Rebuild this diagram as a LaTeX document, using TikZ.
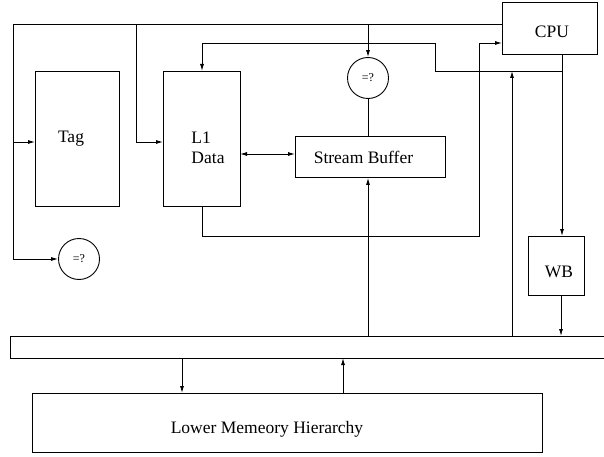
\documentclass[tikz,border=0pt]{standalone}
\usepackage{fontspec}
\setmainfont{Liberation Serif}
\usetikzlibrary{arrows.meta,calc}
\begin{document}
\begin{tikzpicture}[x=1pt,y=-1pt,line width=0.9pt,
  box/.style={draw,inner sep=0pt,anchor=north west},
  cmp/.style={draw,circle,minimum size=41pt,inner sep=0pt,font=\fontsize{12}{14}\selectfont},
  lbl/.style={font=\fontsize{17.5}{20}\selectfont,inner sep=0pt},
  arr/.style={-{Latex[length=7pt,width=4pt]}},
  darr/.style={{Latex[length=7pt,width=4pt]}-{Latex[length=7pt,width=4pt]}}]
\useasboundingbox (0,0) rectangle (604,457);
% boxes
\node[box,minimum width=84pt,minimum height=135pt] (tag) at (35,71) {};
\node[lbl] (tagt) at (71,139) {Tag};
\node[box,minimum width=77pt,minimum height=135pt] (l1) at (163,71) {};
\node[lbl,align=left] (l1t) at (208,148) {L1\\Data};
\node[box,minimum width=150pt,minimum height=41pt,lbl] (sb) at (295,136) {\hspace*{-14pt}Stream Buffer};
\node[box,minimum width=95pt,minimum height=52pt] (cpu) at (502,2) {};
\node[lbl] (cput) at (552,32) {CPU};
\node[box,minimum width=56pt,minimum height=59pt] (wb) at (528,236) {};
\node[lbl] (wbt) at (559,272) {WB};
\node[box,minimum width=510pt,minimum height=59pt] (lm) at (32,393) {};
\node[lbl] (lmt) at (267,429) {Lower Memeory Hierarchy};
\node[cmp] (cmpt) at (368,78) {=?};
\node[cmp] (cmpl) at (79,259) {=?};
% bus
\coordinate (busTL) at (10,336);
\coordinate (busTR) at (604,336);
\coordinate (busBL) at (10,358);
\coordinate (busBR) at (604,358);
\draw (busTR) -- (busTL) -- (busBL) -- (busBR);
% address line from CPU
\coordinate (a0) at (502,24);
\coordinate (a1) at (13,24);
\coordinate (a2) at (13,259);
\coordinate (a3) at (13,142);
\coordinate (a4) at (136,24);
\coordinate (a5) at (136,142);
\coordinate (a6) at (368,24);
\draw (a0) -- (a1) -- (a2);
\draw[arr] (a2) -- (cmpl.west);
\draw[arr] (a3) -- (tag.west |- a3);
\draw[arr] (a4) -- (a5) -- (l1.west |- a5);
\draw[arr] (a6) -- (cmpt.north);
% CPU data out
\coordinate (d0) at (562,54);
\coordinate (d1) at (562,71);
\coordinate (d2) at (435,71);
\coordinate (d3) at (435,43);
\coordinate (d4) at (202,43);
\coordinate (d5) at (202,71);
\draw[arr] (d0) -- (wb.north -| d0);
\draw[arr] (d1) -- (d2) -- (d3) -- (d4) -- (d5);
\coordinate (u0) at (512,336);
\coordinate (u1) at (512,71);
\draw[arr] (u0) -- (u1);
% L1 to CPU
\coordinate (e0) at (202,206);
\coordinate (e1) at (202,236);
\coordinate (e2) at (479,236);
\coordinate (e3) at (479,43);
\draw[arr] (e0) -- (e1) -- (e2) -- (e3) -- (cpu.west |- e3);
% L1 <-> SB
\coordinate (f0) at (240,154);
\coordinate (f1) at (295,154);
\draw[darr] (f0) -- (f1);
\draw (cmpt.south) -- (sb.north -| cmpt.south);
\coordinate (g0) at (368,336);
\draw[arr] (g0) -- (sb.south -| g0);
\coordinate (h0) at (561,295);
\draw[arr] (h0) -- (busTL -| h0);
% bus <-> lower memory
\coordinate (i0) at (182,358);
\draw[arr] (i0) -- (lm.north -| i0);
\coordinate (j0) at (343,393);
\draw[arr] (j0) -- (busBL -| j0);
\end{tikzpicture}
\end{document}
